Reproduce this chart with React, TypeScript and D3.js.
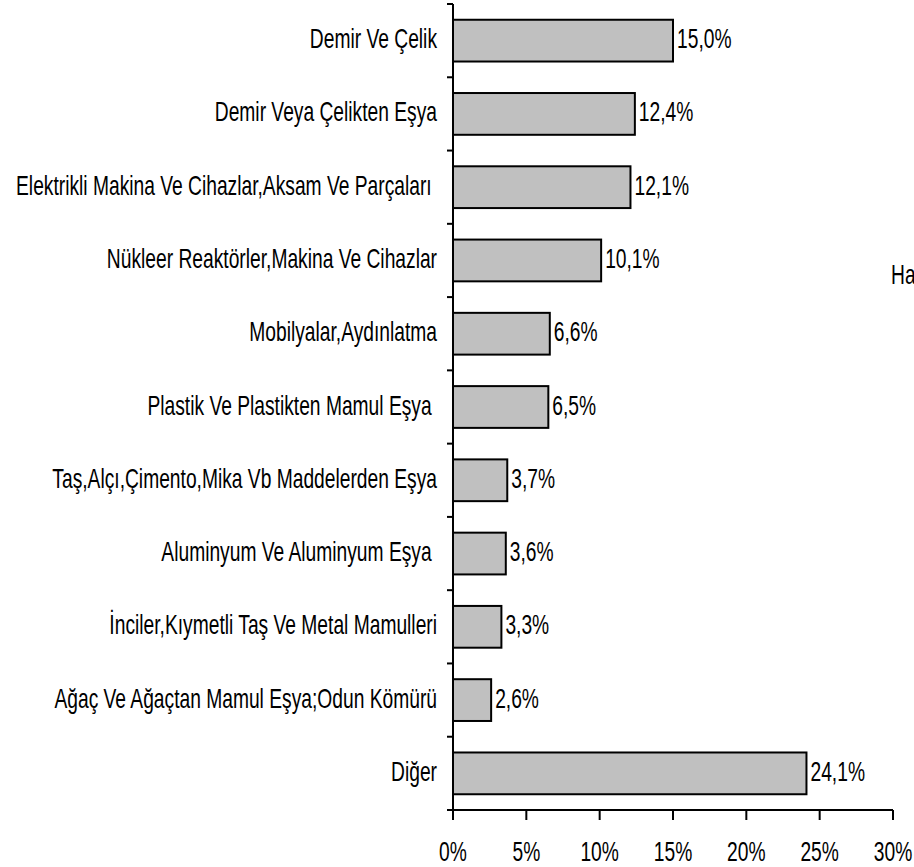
import React from "react";
import * as d3 from "d3";

const categories = [
  "Demir Ve Çelik",
  "Demir Veya Çelikten Eşya",
  "Elektrikli Makina Ve Cihazlar,Aksam Ve Parçaları ",
  "Nükleer Reaktörler,Makina Ve Cihazlar",
  "Mobilyalar,Aydınlatma",
  "Plastik Ve Plastikten Mamul Eşya ",
  "Taş,Alçı,Çimento,Mika Vb Maddelerden Eşya",
  "Aluminyum Ve Aluminyum Eşya ",
  "İnciler,Kıymetli Taş Ve Metal Mamulleri",
  "Ağaç Ve Ağaçtan Mamul Eşya;Odun Kömürü",
  "Diğer",
];
const values = [15.0, 12.4, 12.1, 10.1, 6.6, 6.5, 3.7, 3.6, 3.3, 2.6, 24.1];
const xTicks = [0, 5, 10, 15, 20, 25, 30];
const sideText = "Ha";

const W = 914;
const H = 867;
const x0 = 453;
const x1 = 893;
const yTop = 4;
const yBot = 810;
const FONT = "'Liberation Sans', Arial, sans-serif";
const FS = 28.5;
const SX = 0.675;
const BASE = 7.5;

const fmt = (v: number) => v.toFixed(1).replace(".", ",") + "%";

function T({ x, y, anchor = "start", size = FS, children }: { x: number; y: number; anchor?: string; size?: number; children: React.ReactNode }) {
  return (
    <text
      transform={`translate(${x},${y}) scale(${SX},1)`}
      textAnchor={anchor}
      fontSize={size}
      fill="#000"
      style={{ whiteSpace: "pre" }}
    >
      {children}
    </text>
  );
}

export default function App() {
  const x = d3.scaleLinear().domain([0, 30]).range([x0, x1]);
  const y = d3.scaleBand<string>().domain(categories).range([yTop, yBot]).paddingInner(0.43).paddingOuter(0.215);
  const step = (yBot - yTop) / categories.length;
  const bounds = d3.range(categories.length + 1).map((i) => yTop + i * step);
  return (
    <svg width={W} height={H} style={{ position: "absolute", left: 0, top: 0, background: "#fff" }} fontFamily={FONT}>
      {categories.map((c, i) => {
        const cy = y(c)! + y.bandwidth() / 2;
        return (
          <g key={c}>
            <rect
              x={x(0)}
              y={y(c)!}
              width={x(values[i]) - x(0)}
              height={y.bandwidth()}
              fill="#c0c0c0"
              stroke="#000"
              strokeWidth={2}
            />
            <T x={x0 - 16} y={cy + BASE} anchor="end">
              {c}
            </T>
            <T x={x(values[i]) + 4} y={cy + BASE}>
              {fmt(values[i])}
            </T>
          </g>
        );
      })}
      <line x1={x0} x2={x0} y1={yTop} y2={yBot} stroke="#000" strokeWidth={2} />
      {bounds.map((b, i) => (
        <line key={i} x1={x0 - 6} x2={x0} y1={b} y2={b} stroke="#000" strokeWidth={2} />
      ))}
      <line x1={x0} x2={x1} y1={yBot} y2={yBot} stroke="#000" strokeWidth={2} />
      {xTicks.map((t) => (
        <g key={t}>
          <line x1={x(t)} x2={x(t)} y1={yBot} y2={yBot + 10} stroke="#000" strokeWidth={2} />
          <T x={x(t)} y={861} anchor="middle">
            {t}%
          </T>
        </g>
      ))}
      <T x={891} y={284}>
        {sideText}
      </T>
    </svg>
  );
}
